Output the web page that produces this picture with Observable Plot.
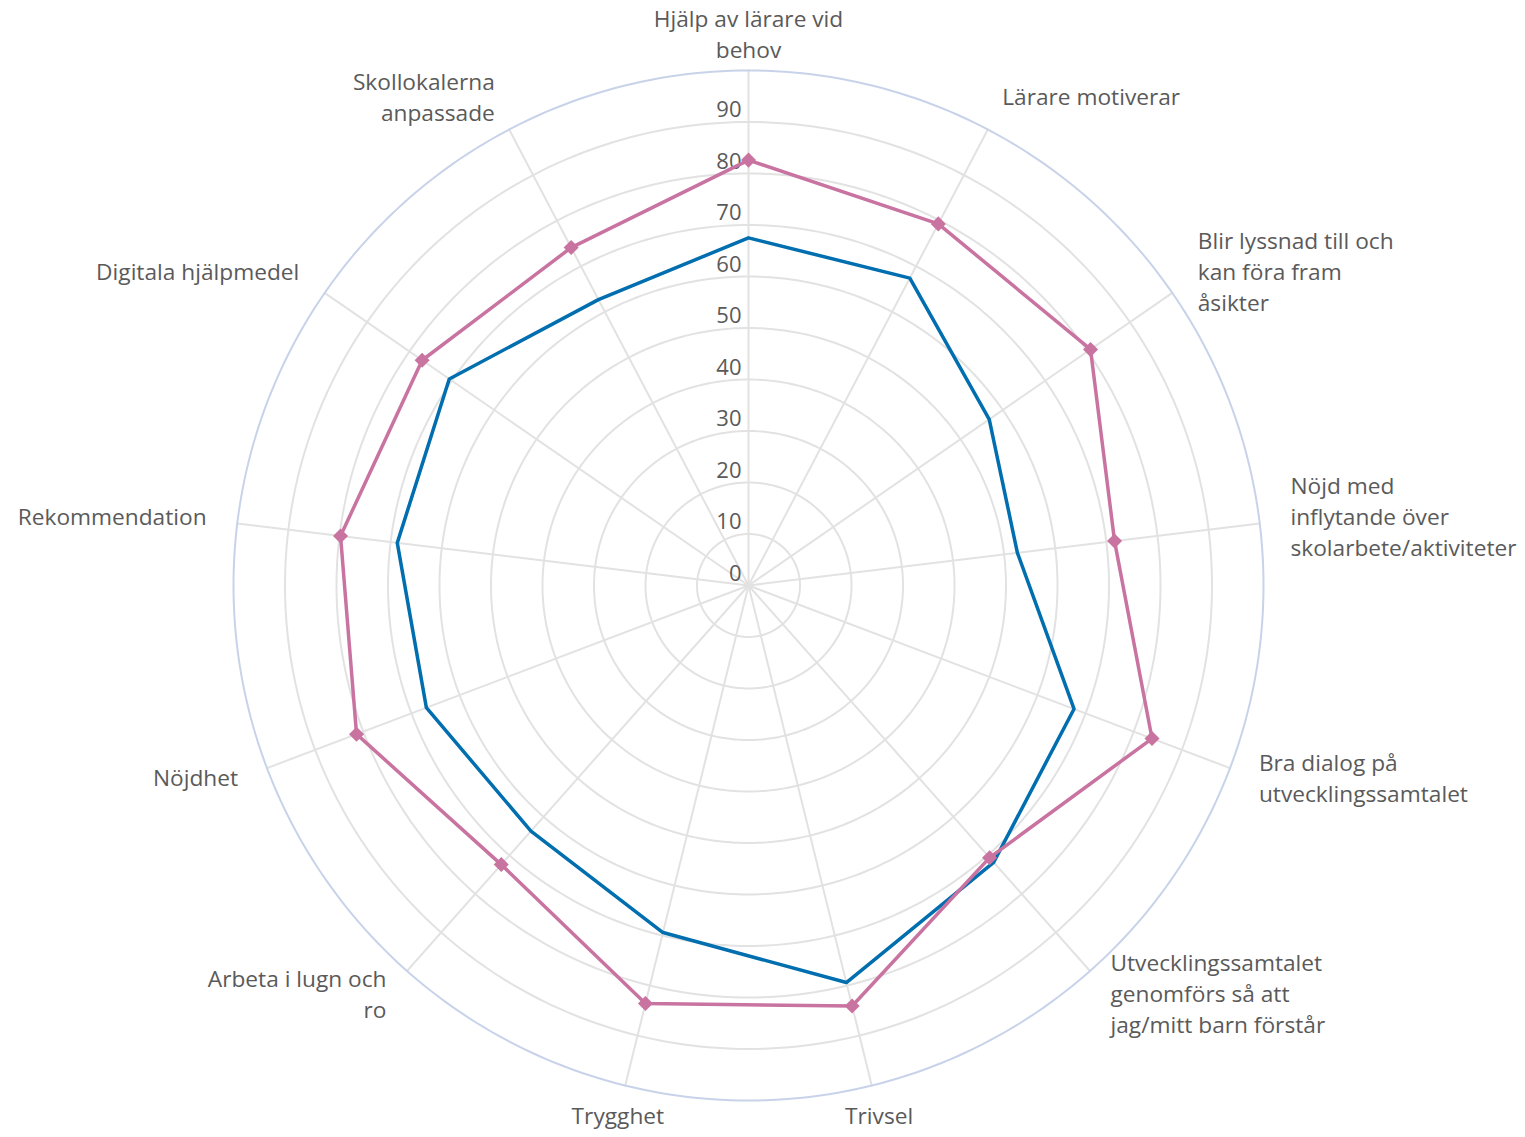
<!DOCTYPE html>
<html>
<head>
<meta charset="utf-8">
<script src="https://cdn.jsdelivr.net/npm/d3@7"></script>
<script src="https://cdn.jsdelivr.net/npm/@observablehq/plot@0.6"></script>
<style>
  html, body { margin: 0; padding: 0; background: #ffffff; }
  #chart svg { display: block; overflow: visible; }
</style>
</head>
<body>
<div id="chart"></div>
<script>
// ---- data ----
const categories = [
  "Hjälp av lärare vid\nbehov",
  "Lärare motiverar",
  "Blir lyssnad till och\nkan föra fram\nåsikter",
  "Nöjd med\ninflytande över\nskolarbete/aktiviteter",
  "Bra dialog på\nutvecklingssamtalet",
  "Utvecklingssamtalet\ngenomförs så att\njag/mitt barn förstår",
  "Trivsel",
  "Trygghet",
  "Arbeta i lugn och\nro",
  "Nöjdhet",
  "Rekommendation",
  "Digitala hjälpmedel",
  "Skollokalerna\nanpassade"
];
const seriesPink = [82.6, 79.3, 80.7, 71.6, 83.8, 70.6, 84.1, 83.6, 72.4, 81.4, 79.8, 77.0, 74.1];
const seriesBlue = [67.5, 67.4, 56.8, 52.6, 67.6, 71.8, 79.4, 69.4, 63.7, 66.9, 68.7, 70.6, 62.7];
const ringTicks = [0, 10, 20, 30, 40, 50, 60, 70, 80, 90];
const maxValue = 100;

// ---- geometry helpers ----
const n = categories.length;
const angle = i => (i * 2 * Math.PI) / n;
const polar = (v, a) => ({x: v * Math.sin(a), y: v * Math.cos(a)});

const seriesPoints = (vals, name) => vals.map((v, i) => ({...polar(v, angle(i)), series: name, value: v, cat: categories[i]}));
const pink = seriesPoints(seriesPink, "pink");
const blue = seriesPoints(seriesBlue, "blue");

const circle = r => d3.range(0, 361, 1).map(d => ({...polar(r, d * Math.PI / 180), r}));
const rings = ringTicks.filter(t => t > 0).flatMap(t => circle(t));
const outer = circle(maxValue);
const spokes = categories.flatMap((c, i) => [{x: 0, y: 0, i}, {...polar(maxValue, angle(i)), i}]);

const labelR = 106;
const labels = categories.map((c, i) => {
  const a = angle(i);
  const s = Math.sin(a);
  const anchor = Math.abs(s) < 0.3 ? "middle" : (s > 0 ? "start" : "end");
  return {...polar(labelR, a), text: c, anchor, shift: -4 - 3 * Math.cos(a)};
});

const W = 1525, H = 1137;
const textColor = "#5a5a5a";
const font = "'Open Sans', Lato, sans-serif";

const chart = Plot.plot({
  width: W,
  height: H,
  marginLeft: 233,
  marginRight: 262,
  marginTop: 70,
  marginBottom: 37,
  x: {domain: [-maxValue, maxValue], axis: null},
  y: {domain: [-maxValue, maxValue], axis: null},
  style: {fontFamily: font, background: "#ffffff"},
  marks: [
    Plot.line(rings, {x: "x", y: "y", z: "r", stroke: "#e2e2e2", strokeWidth: 2}),
    Plot.line(spokes, {x: "x", y: "y", z: "i", stroke: "#e2e2e2", strokeWidth: 2}),
    Plot.line(outer, {x: "x", y: "y", stroke: "#c8d3ea", strokeWidth: 2}),
    Plot.text(ringTicks, {x: 0, y: d => d, text: d => String(d), textAnchor: "end", dx: -7, dy: -12, fontSize: 22, fill: textColor}),
    Plot.line(blue, {x: "x", y: "y", curve: "linear-closed", stroke: "#006eaf", strokeWidth: 3.5, strokeLinejoin: "round"}),
    Plot.line(pink, {x: "x", y: "y", curve: "linear-closed", stroke: "#c973a1", strokeWidth: 3.5, strokeLinejoin: "round"}),
    Plot.dot(pink, {x: "x", y: "y", symbol: "square", rotate: 45, r: 6, fill: "#c973a1", stroke: "none"}),
    ...labels.map(d =>
      Plot.text([d], {
        x: "x", y: "y", text: "text", textAnchor: d.anchor, lineAnchor: "middle", dy: d.shift,
        lineHeight: 1.366, fontSize: 22.7, fill: textColor
      })
    )
  ]
});

document.getElementById("chart").appendChild(chart);
</script>
</body>
</html>
